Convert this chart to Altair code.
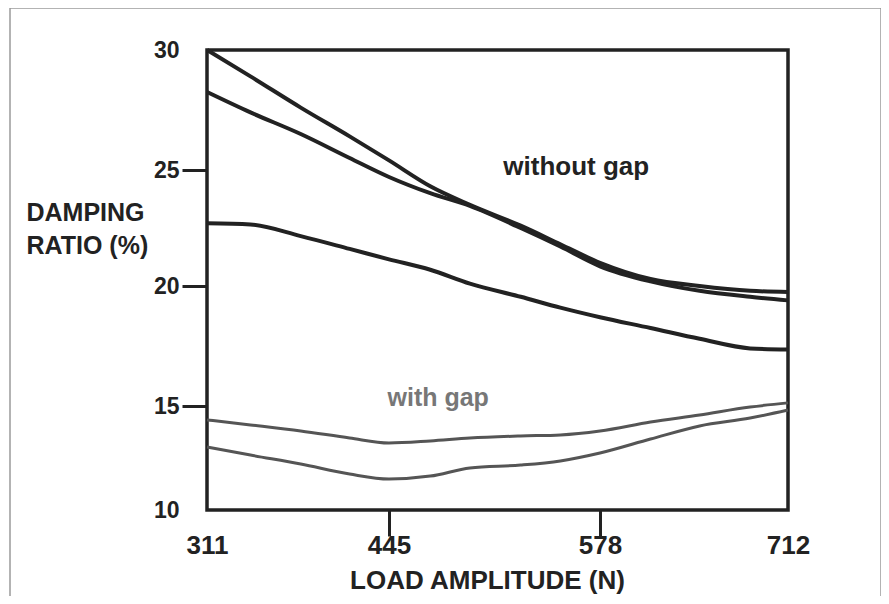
import altair as alt
import pandas as pd

# ---- data ----
loads = [311, 343, 380, 416, 445, 471, 496, 528, 553, 578, 614, 649, 685, 712]
without_gap_a = [30.0, 28.9, 27.6, 26.4, 25.4, 24.3, 23.5, 22.6, 21.8, 21.0, 20.3, 20.0, 19.8, 19.75]
without_gap_b = [28.25, 27.4, 26.5, 25.5, 24.7, 24.0, 23.45, 22.5, 21.7, 20.85, 20.2, 19.8, 19.55, 19.4]
without_gap_c = [22.7, 22.65, 22.15, 21.6, 21.15, 20.7, 20.1, 19.55, 19.1, 18.7, 18.25, 17.8, 17.4, 17.35]
with_gap_a = [14.33, 14.09, 13.8, 13.46, 13.22, 13.32, 13.46, 13.56, 13.61, 13.8, 14.23, 14.57, 14.95, 15.13]
with_gap_b = [13.03, 12.64, 12.21, 11.73, 11.49, 11.63, 12.02, 12.16, 12.36, 12.74, 13.41, 14.04, 14.42, 14.81]

x_ticks = [311, 445, 578, 712]
y_ticks = [10, 15, 20, 25, 30]

notes_text = ["without gap", "with gap"]
notes_load = [563, 476]
notes_ratio = [24.78, 15.0]

# ---- tables ----
rows = []
for name, vals in [("wo_a", without_gap_a), ("wo_b", without_gap_b), ("wo_c", without_gap_c)]:
    for l, v in zip(loads, vals):
        rows.append({"load": l, "ratio": v, "series": name})
df_wo = pd.DataFrame(rows)
rows = []
for name, vals in [("w_a", with_gap_a), ("w_b", with_gap_b)]:
    for l, v in zip(loads, vals):
        rows.append({"load": l, "ratio": v, "series": name})
df_w = pd.DataFrame(rows)
df_note1 = pd.DataFrame({"text": [notes_text[0]], "load": [notes_load[0]], "ratio": [notes_ratio[0]]})
df_note2 = pd.DataFrame({"text": [notes_text[1]], "load": [notes_load[1]], "ratio": [notes_ratio[1]]})

# hand-drawn axes of the original: piecewise linear scales through the tick marks
xscale = alt.Scale(domain=x_ticks, range=[0, 182, 393, 581], zero=False, nice=False)
yscale = alt.Scale(domain=y_ticks, range=[460, 356, 236, 120, 0], zero=False, nice=False)

INK = "#222222"
FONT = "Liberation Sans"

xaxis = alt.Axis(
    values=x_ticks, title="LOAD AMPLITUDE (N)", domain=False, grid=False,
    tickSize=26, tickWidth=3, tickColor=INK,
    tickOpacity={"condition": {"test": "datum.value == 445 || datum.value == 578", "value": 1}, "value": 0},
    labelFont=FONT, labelFontSize=26, labelFontWeight="bold",
    labelColor=INK, labelBaseline="top", labelPadding=-4, labelFlush=False,
    labelOverlap=False, labelAngle=0,
    titleFont=FONT, titleFontSize=26, titleFontWeight="bold",
    titleColor=INK, titleX=280, titleY=78, titleBaseline="alphabetic", titleAlign="center",
)
yaxis = alt.Axis(
    values=y_ticks, title=["DAMPING", "RATIO (%)"], domain=False, grid=False,
    tickSize=25, tickWidth=3, tickColor=INK,
    tickOpacity={"condition": {"test": "datum.value == 10 || datum.value == 30", "value": 0}, "value": 1},
    labelFont=FONT, labelFontSize=23, labelFontWeight="bold",
    labelColor=INK, labelPadding=3, labelFlush=False, labelOverlap=False,
    titleFont=FONT, titleFontSize=25, titleFontWeight="bold", titleColor=INK,
    titleAngle=0, titleAlign="left", titleBaseline="alphabetic",
    titleX=-181, titleY=170, titleLineHeight=33,
)

X = alt.X("load:Q", scale=xscale, axis=xaxis)
Y = alt.Y("ratio:Q", scale=yscale, axis=yaxis)

lines_wo = alt.Chart(df_wo).mark_line(color=INK, strokeWidth=4, interpolate="monotone").encode(
    x=X, y=Y, detail="series:N")
lines_w = alt.Chart(df_w).mark_line(color="#555555", strokeWidth=3, interpolate="monotone").encode(
    x=X, y=Y, detail="series:N")
note1 = alt.Chart(df_note1).mark_text(
    font=FONT, fontSize=26, fontWeight="bold", color=INK,
    align="center", baseline="alphabetic").encode(x=X, y=Y, text="text:N")
note2 = alt.Chart(df_note2).mark_text(
    font=FONT, fontSize=25, fontWeight="bold", color="#777777",
    align="center", baseline="alphabetic").encode(x=X, y=Y, text="text:N")
frame = alt.Chart(df_note1).mark_rect(fillOpacity=0, stroke="#9a9a9a", strokeWidth=1.5).encode(
    x=alt.value(-197), x2=alt.value(674), y=alt.value(-42), y2=alt.value(547))

chart = alt.layer(frame, lines_wo, lines_w, note1, note2).properties(
    width=581, height=460,
    autosize=alt.AutoSizeParams(type="none"),
    padding={"left": 199, "top": 42, "right": 93, "bottom": 86},
    background="white",
).configure_view(stroke=INK, strokeWidth=3.5)

chart.save("out.html", embed_options={"renderer": "svg", "actions": False})
